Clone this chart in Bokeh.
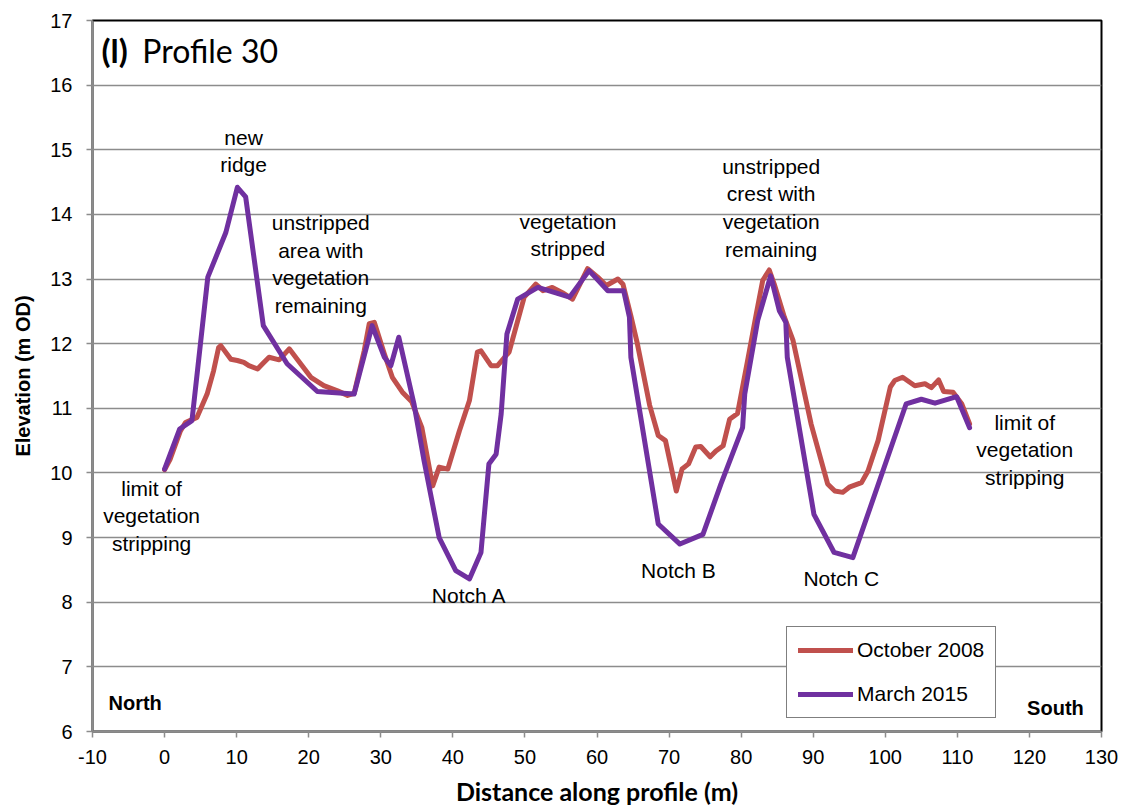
from bokeh.plotting import figure
from bokeh.models import Range1d, FixedTicker, ColumnDataSource
from bokeh.core.properties import value
from bokeh.embed import file_html
from bokeh.resources import INLINE

# ---------------- data ----------------
oct2008_x = [0, 0.8, 2.2, 2.9, 4.5, 5.9, 6.8, 7.5, 7.8, 9.2, 10.1, 11.0, 11.7, 12.9, 13.6,
             14.5, 15.9, 17.3, 18.4, 20.3, 22.1, 24.0, 25.4, 26.3, 27.7, 28.4, 29.1, 30.5,
             31.6, 33.0, 34.3, 35.7, 37.2, 38.1, 39.3, 40.9, 42.3, 43.4, 43.9, 45.3, 46.2,
             47.8, 49.9, 51.5, 52.5, 53.8, 55.2, 56.6, 58.7, 60.1, 61.3, 62.9, 63.6, 64.7,
             65.6, 67.3, 68.5, 69.5, 71.0, 71.8, 72.7, 73.7, 74.4, 75.7, 76.5, 77.5, 78.4,
             79.5, 80.9, 82.1, 83.0, 83.9, 84.6, 86.0, 87.2, 89.7, 92.0, 93.0, 94.1, 95.0,
             96.7, 97.6, 99.0, 100.7, 101.3, 102.4, 104.1, 105.5, 106.4, 107.4, 108.1,
             109.4, 110.6, 111.7]
oct2008_y = [10.05, 10.22, 10.65, 10.78, 10.86, 11.22, 11.58, 11.94, 11.97, 11.76, 11.74,
             11.71, 11.66, 11.61, 11.69, 11.79, 11.75, 11.92, 11.76, 11.48, 11.35, 11.27,
             11.20, 11.23, 11.89, 12.31, 12.33, 11.84, 11.48, 11.25, 11.10, 10.70, 9.80,
             10.09, 10.06, 10.65, 11.12, 11.87, 11.89, 11.66, 11.66, 11.87, 12.72, 12.92,
             12.82, 12.87, 12.79, 12.69, 13.16, 13.03, 12.90, 13.00, 12.92, 12.43, 12.00,
             11.05, 10.58, 10.50, 9.72, 10.06, 10.14, 10.40, 10.41, 10.25, 10.34, 10.42,
             10.83, 10.92, 11.74, 12.46, 12.98, 13.14, 12.92, 12.41, 12.05, 10.76, 9.83,
             9.72, 9.70, 9.78, 9.85, 10.03, 10.50, 11.33, 11.43, 11.48, 11.35, 11.38, 11.32,
             11.44, 11.26, 11.25, 11.07, 10.76]

mar2015_x = [0, 2.1, 3.8, 6.0, 8.5, 10.1, 11.25, 13.7, 17.0, 21.2, 26.3, 28.8, 30.5, 31.4,
             32.5, 34.6, 36.0, 38.1, 40.4, 42.3, 43.9, 45.0, 46.0, 46.7, 47.5, 49.0, 51.8,
             56.2, 58.9, 61.5, 63.7, 64.5, 64.7, 68.5, 71.5, 74.7, 77.2, 80.2, 80.5, 82.3,
             84.1, 85.3, 86.2, 86.4, 90.1, 92.9, 95.5, 102.9, 105.0, 106.9, 109.9, 111.7]
mar2015_y = [10.06, 10.68, 10.81, 13.03, 13.72, 14.42, 14.27, 12.28, 11.69, 11.26, 11.22,
             12.28, 11.79, 11.66, 12.10, 11.07, 10.19, 9.00, 8.49, 8.36, 8.77, 10.14, 10.29,
             10.91, 12.15, 12.69, 12.87, 12.72, 13.13, 12.82, 12.82, 12.41, 11.79, 9.21,
             8.90, 9.05, 9.83, 10.70, 11.22, 12.36, 13.05, 12.51, 12.33, 11.79, 9.36, 8.77,
             8.69, 11.07, 11.14, 11.08, 11.18, 10.70]

series_labels = ["October 2008", "March 2015"]
x_ticks = list(range(-10, 131, 10))
y_ticks = list(range(6, 18))

note_text = ["new\nridge", "unstripped\narea with\nvegetation\nremaining",
             "vegetation\nstripped", "unstripped\ncrest with\nvegetation\nremaining",
             "limit of\nvegetation\nstripping", "limit of\nvegetation\nstripping",
             "Notch A", "Notch B", "Notch C"]
note_x = [10.97, 21.67, 55.97, 84.17, -1.8, 119.35, 42.27, 71.3, 93.9]
note_y = [14.98, 13.23, 13.68, 14.105, 9.34, 10.356, 8.11, 8.49, 8.36]

side_text = ["North", "South"]
side_x = [-7.78, 119.68]
side_y = [6.443, 6.36]

title_bold = "(l)"
title_rest = "Profile 30"

RED = "#C0504D"
PURPLE = "#7030A0"
GRID = "#8C8C8C"
ARIAL = value("Liberation Sans")

p = figure(width=1120, height=808, output_backend="svg", toolbar_location=None,
           x_range=Range1d(-10, 130), y_range=Range1d(6, 17),
           min_border_left=92, min_border_right=19, min_border_top=20, min_border_bottom=77)
p.background_fill_color = "white"
p.border_fill_color = "white"
p.outline_line_color = "black"
p.outline_line_width = 2

# grid
p.xgrid.grid_line_color = None
p.ygrid.grid_line_color = GRID
p.ygrid.grid_line_width = 1.5
p.ygrid.ticker = FixedTicker(ticks=y_ticks)

# axes
for ax in (p.xaxis[0], p.yaxis[0]):
    ax.axis_line_color = GRID
    ax.axis_line_width = 2
    ax.major_tick_line_color = GRID
    ax.major_tick_line_width = 1.5
    ax.major_tick_out = 6
    ax.major_tick_in = 0
    ax.minor_tick_line_color = None
    ax.major_label_text_font = "Liberation Sans"
    ax.major_label_text_font_size = "20px"
    ax.major_label_text_color = "black"
    ax.axis_label_text_color = "black"
    ax.axis_label_text_font_style = "bold"

p.xaxis.ticker = FixedTicker(ticks=x_ticks)
p.yaxis.ticker = FixedTicker(ticks=y_ticks)
p.xaxis.major_label_overrides = {t: str(t) for t in x_ticks}
p.xaxis.major_label_standoff = 12
p.yaxis.major_label_standoff = 14
p.xaxis.axis_label = "Distance along profile (m)"
p.xaxis.axis_label_text_font = "Lato"
p.xaxis.axis_label_text_font_size = "25px"
p.xaxis.axis_label_standoff = 9
p.yaxis.axis_label = "Elevation (m OD)"
p.yaxis.axis_label_text_font = "Liberation Sans"
p.yaxis.axis_label_text_font_size = "20px"
p.yaxis.axis_label_standoff = 13

# lines
p.line(oct2008_x, oct2008_y, line_color=RED, line_width=5, line_join="round",
       line_cap="round", legend_label=series_labels[0])
p.line(mar2015_x, mar2015_y, line_color=PURPLE, line_width=5, line_join="round",
       line_cap="round", legend_label=series_labels[1])

# annotations
notes = ColumnDataSource(dict(x=note_x, y=note_y, t=note_text))
p.text(x="x", y="y", text="t", source=notes, text_font=ARIAL, text_font_size="21px",
       text_align="center", text_baseline="middle", text_line_height=1.2, text_color="black")

sides = ColumnDataSource(dict(x=side_x, y=side_y, t=side_text))
p.text(x="x", y="y", text="t", source=sides, text_font=ARIAL, text_font_size="20px",
       text_font_style="bold", text_align="left", text_baseline="middle", text_color="black")

p.text(x=[-8.75], y=[16.54], text=[title_bold], text_font=value("Lato"), text_font_size="33px",
       text_font_style="bold", text_align="left", text_baseline="middle", text_color="black")
p.text(x=[-3.1], y=[16.54], text=[title_rest], text_font=value("Lato"), text_font_size="32px",
       text_align="left", text_baseline="middle", text_color="black")

# legend
lg = p.legend[0]
lg.location = (694, 13)
lg.border_line_color = "black"
lg.border_line_width = 1.5
lg.background_fill_color = "white"
lg.background_fill_alpha = 1
lg.label_text_font = "Liberation Sans"
lg.label_text_font_size = "21px"
lg.label_text_color = "black"
lg.glyph_width = 55
lg.glyph_height = 24
lg.label_height = 24
lg.spacing = 20
lg.padding = 11
lg.margin = 0
lg.label_standoff = 4

open("out.html", "w").write(file_html(p, INLINE))
